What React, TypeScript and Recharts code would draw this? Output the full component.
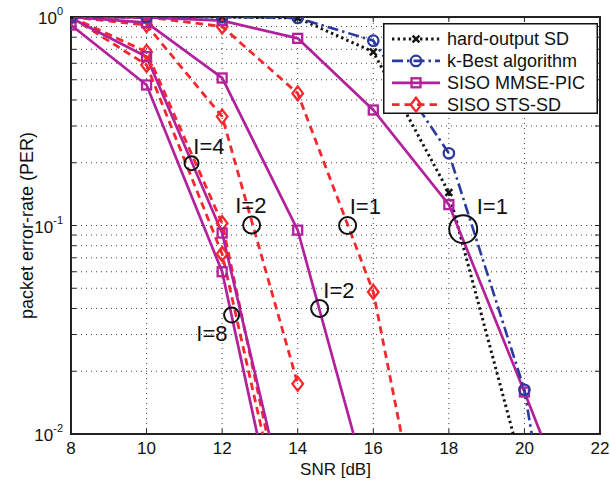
import React from 'react';
import { LineChart, Line, XAxis, YAxis, ReferenceLine, ReferenceArea, ReferenceDot, Legend } from 'recharts';

const FONT = '"Liberation Sans", Arial, Helvetica, sans-serif';

// axis ticks / grid
const SNR_TICKS = [8, 10, 12, 14, 16, 18, 20, 22];
const PER_TICKS = [0.01, 0.1, 1];
const X_GRID = [10, 12, 14, 16, 18, 20];
const Y_GRID = [0.02, 0.03, 0.04, 0.05, 0.06, 0.07, 0.08, 0.09, 0.1, 0.2, 0.3, 0.4, 0.5, 0.6, 0.7, 0.8, 0.9];

// hard-output SD
const snrHardSD = [8, 10, 12, 14, 16, 18, 20];
const perHardSD = [1, 1, 1, 0.99, 0.68, 0.144, 0.0063];
// k-Best
const snrKBest = [8, 10, 12, 14, 16, 18, 20, 22];
const perKBest = [1, 1, 1, 0.99, 0.77, 0.222, 0.0163, 0.0001];
// SISO MMSE-PIC, I = 1, 2, 4, 8
const snrMmse1 = [8, 10, 12, 14, 16, 18, 20, 22];
const perMmse1 = [1, 0.995, 0.96, 0.79, 0.358, 0.126, 0.0159, 0.0019];
const snrMmse2 = [8, 10, 12, 14, 16];
const perMmse2 = [1, 0.94, 0.51, 0.095, 0.0045];
const snrMmse4 = [8, 10, 12, 14];
const perMmse4 = [0.99, 0.645, 0.092, 0.0026];
const snrMmse8 = [8, 10, 12, 14];
const perMmse8 = [0.915, 0.472, 0.06, 0.00126];
// SISO STS-SD, I = 1, 2, 4, 8
const snrSts1 = [8, 10, 12, 14, 16, 18];
const perSts1 = [1, 1, 0.9, 0.43, 0.048, 0.0007];
const snrSts2 = [8, 10, 12, 14];
const perSts2 = [1, 0.915, 0.333, 0.0174];
const snrSts4 = [8, 10, 12, 14];
const perSts4 = [1, 0.68, 0.1025, 0.002];
const snrSts8 = [8, 10, 12, 14];
const perSts8 = [1, 0.589, 0.073, 0.0018];

// annotations (data coordinates)
const annCircles = [
  { x: 11.19, y: 0.199, r: 7 },
  { x: 12.78, y: 0.1005, r: 8.5 },
  { x: 15.32, y: 0.1, r: 8.5 },
  { x: 18.38, y: 0.096, r: 14 },
  { x: 14.58, y: 0.04, r: 8.5 },
  { x: 12.25, y: 0.0372, r: 7.5 },
];
const annLabels = [
  { x: 11.65, y: 0.238, text: 'I=4' },
  { x: 12.76, y: 0.125, text: 'I=2' },
  { x: 15.79, y: 0.123, text: 'I=1' },
  { x: 19.15, y: 0.124, text: 'I=1' },
  { x: 15.09, y: 0.049, text: 'I=2' },
  { x: 11.73, y: 0.0304, text: 'I=8' },
];

const BLACK = '#151515';
const BLUE = '#2b3a9c';
const MAGENTA = '#b3209b';
const RED = '#f5282d';

const toPts = (xs: number[], ys: number[]) => xs.map((x, i) => ({ x, y: ys[i] }));

type Kind = 'x' | 'o' | 's' | 'd';
const STYLE = {
  hard: { color: BLACK, dash: '2.4 3.2', width: 3, marker: 'x' as Kind },
  kbest: { color: BLUE, dash: '11 4 2.5 4', width: 2.6, marker: 'o' as Kind },
  mmse: { color: MAGENTA, dash: undefined, width: 2.7, marker: 's' as Kind },
  sts: { color: RED, dash: '7.5 5', width: 2.8, marker: 'd' as Kind },
};

const SERIES = [
  { id: 'hard', ...STYLE.hard, data: toPts(snrHardSD, perHardSD) },
  { id: 'sts1', ...STYLE.sts, data: toPts(snrSts1, perSts1) },
  { id: 'sts2', ...STYLE.sts, data: toPts(snrSts2, perSts2) },
  { id: 'sts4', ...STYLE.sts, data: toPts(snrSts4, perSts4) },
  { id: 'sts8', ...STYLE.sts, data: toPts(snrSts8, perSts8) },
  { id: 'mmse1', ...STYLE.mmse, data: toPts(snrMmse1, perMmse1) },
  { id: 'mmse2', ...STYLE.mmse, data: toPts(snrMmse2, perMmse2) },
  { id: 'mmse4', ...STYLE.mmse, data: toPts(snrMmse4, perMmse4) },
  { id: 'mmse8', ...STYLE.mmse, data: toPts(snrMmse8, perMmse8) },
  { id: 'kbest', ...STYLE.kbest, data: toPts(snrKBest, perKBest) },
];

const LEGEND_ITEMS = [
  { name: 'hard-output SD', ...STYLE.hard },
  { name: 'k-Best algorithm', ...STYLE.kbest },
  { name: 'SISO MMSE-PIC', ...STYLE.mmse },
  { name: 'SISO STS-SD', ...STYLE.sts },
];

function Marker({ kind, cx, cy, color }: { kind: Kind; cx: number; cy: number; color: string }) {
  const sw = 2.3;
  if (kind === 'x') {
    const s = 3.4;
    return (
      <g stroke={color} strokeWidth={2.5}>
        <line x1={cx - s} y1={cy - s} x2={cx + s} y2={cy + s} />
        <line x1={cx - s} y1={cy + s} x2={cx + s} y2={cy - s} />
      </g>
    );
  }
  if (kind === 'o') return <circle cx={cx} cy={cy} r={5.2} fill="none" stroke={color} strokeWidth={sw} />;
  if (kind === 's') return <rect x={cx - 4.5} y={cy - 4.5} width={9} height={9} fill="none" stroke={color} strokeWidth={sw} />;
  return (
    <path
      d={`M${cx} ${cy - 7} L${cx + 5.3} ${cy} L${cx} ${cy + 7} L${cx - 5.3} ${cy} Z`}
      fill="none"
      stroke={color}
      strokeWidth={sw}
    />
  );
}

const makeDot = (kind: Kind, color: string, id: string) => (props: any) => {
  const { cx, cy, payload, index } = props;
  const k = `${id}-${index}`;
  if (cx == null || cy == null || payload.y < 0.0099) return <g key={k} />;
  return <Marker key={k} kind={kind} cx={cx} cy={cy} color={color} />;
};

const YTick = (props: any) => {
  const { x, y, payload } = props;
  const exp = Math.round(Math.log10(payload.value));
  return (
    <text x={x} y={y} textAnchor="end" fontSize={17} fill="#111" fontFamily={FONT}>
      <tspan dy={7}>10</tspan>
      <tspan dy={-9} fontSize={11}>{String(exp)}</tspan>
    </text>
  );
};

const YLabel = (props: any) => {
  const vb = props.viewBox || { x: 0, y: 0, width: 0, height: 0 };
  const cx = vb.x + 16;
  const cy = vb.y + vb.height / 2;
  return (
    <text
      x={cx}
      y={cy}
      transform={`rotate(-90 ${cx} ${cy})`}
      textAnchor="middle"
      dominantBaseline="central"
      fontSize={18}
      fill="#111"
      fontFamily={FONT}
    >
      packet error-rate (PER)
    </text>
  );
};

const LegendBox = () => (
  <svg width={215} height={91} style={{ display: 'block' }}>
    <rect x={0.75} y={0.75} width={213.5} height={89.5} fill="#fff" stroke="#111" strokeWidth={1.5} />
    {LEGEND_ITEMS.map((s, i) => {
      const cy = 16 + i * 21.9;
      return (
        <g key={s.name}>
          <line x1={9} x2={57} y1={cy} y2={cy} stroke={s.color} strokeWidth={s.width} strokeDasharray={s.dash} />
          <Marker kind={s.marker} cx={33} cy={cy} color={s.color} />
          <text x={64} y={cy} dominantBaseline="central" fontSize={18} fill="#111" fontFamily={FONT}>
            {s.name}
          </text>
        </g>
      );
    })}
  </svg>
);

const TX = 5 / 37.79; // inward tick length in x units
const TY = Math.pow(10, 5 / 208.5); // inward tick factor in log-y units

export default function App() {
  return (
    <div style={{ position: 'absolute', left: 0, top: 0, width: 610, height: 483, background: '#fff', fontFamily: FONT }}>
      <LineChart width={610} height={483} margin={{ top: 17, right: 10, bottom: 5, left: 11 }}>
        <XAxis
          dataKey="x"
          type="number"
          domain={[8, 22]}
          ticks={SNR_TICKS}
          allowDataOverflow
          axisLine={false}
          tickLine={false}
          tickSize={0}
          tickMargin={8}
          height={44}
          tick={{ fontSize: 17, fill: '#111', fontFamily: FONT }}
          label={{ value: 'SNR [dB]', position: 'insideBottom', offset: 3, fontSize: 17, fill: '#111', fontFamily: FONT }}
        />
        <YAxis
          dataKey="y"
          type="number"
          scale="log"
          domain={[0.01, 1]}
          ticks={PER_TICKS}
          allowDataOverflow
          axisLine={false}
          tickLine={false}
          tickSize={0}
          tickMargin={8}
          width={60}
          tick={<YTick />}
          label={<YLabel />}
        />
        {X_GRID.map((v) => (
          <ReferenceLine key={`gx${v}`} x={v} stroke="#444" strokeWidth={1} strokeDasharray="1 4" />
        ))}
        {Y_GRID.map((v) => (
          <ReferenceLine key={`gy${v}`} y={v} stroke="#444" strokeWidth={1} strokeDasharray="1 4" />
        ))}
        {Y_GRID.map((v) => (
          <ReferenceLine key={`tl${v}`} segment={[{ x: 8, y: v }, { x: 8 + TX, y: v }]} stroke="#222" strokeWidth={1} />
        ))}
        {Y_GRID.map((v) => (
          <ReferenceLine key={`tr${v}`} segment={[{ x: 22 - TX, y: v }, { x: 22, y: v }]} stroke="#222" strokeWidth={1} />
        ))}
        {X_GRID.map((v) => (
          <ReferenceLine key={`tb${v}`} segment={[{ x: v, y: 0.01 }, { x: v, y: 0.01 * TY }]} stroke="#222" strokeWidth={1} />
        ))}
        {X_GRID.map((v) => (
          <ReferenceLine key={`tt${v}`} segment={[{ x: v, y: 1 / TY }, { x: v, y: 1 }]} stroke="#222" strokeWidth={1} />
        ))}
        {SERIES.map((s) => (
          <Line
            key={s.id}
            data={s.data}
            dataKey="y"
            type="linear"
            stroke={s.color}
            strokeWidth={s.width}
            strokeDasharray={s.dash}
            dot={makeDot(s.marker, s.color, s.id)}
            activeDot={false}
            isAnimationActive={false}
            legendType="none"
          />
        ))}
        {annCircles.map((a, i) => (
          <ReferenceDot key={`ac${i}`} x={a.x} y={a.y} r={a.r} fill="none" stroke="#111" strokeWidth={2} />
        ))}
        {annLabels.map((a, i) => (
          <ReferenceDot
            key={`al${i}`}
            x={a.x}
            y={a.y}
            r={1}
            shape={(p: any) => (
              <text x={p.cx} y={p.cy} textAnchor="middle" dominantBaseline="central" fontSize={22} fill="#111" fontFamily={FONT}>
                {a.text}
              </text>
            )}
          />
        ))}
        <ReferenceArea x1={8} x2={22} y1={0.01} y2={1} fill="none" fillOpacity={0} stroke="#222" strokeWidth={2} />
        <Legend
          layout="horizontal"
          verticalAlign="middle"
          align="center"
          wrapperStyle={{ position: 'absolute', left: 383, top: 23, width: 215, height: 91 }}
          content={() => <LegendBox />}
        />
      </LineChart>
    </div>
  );
}
